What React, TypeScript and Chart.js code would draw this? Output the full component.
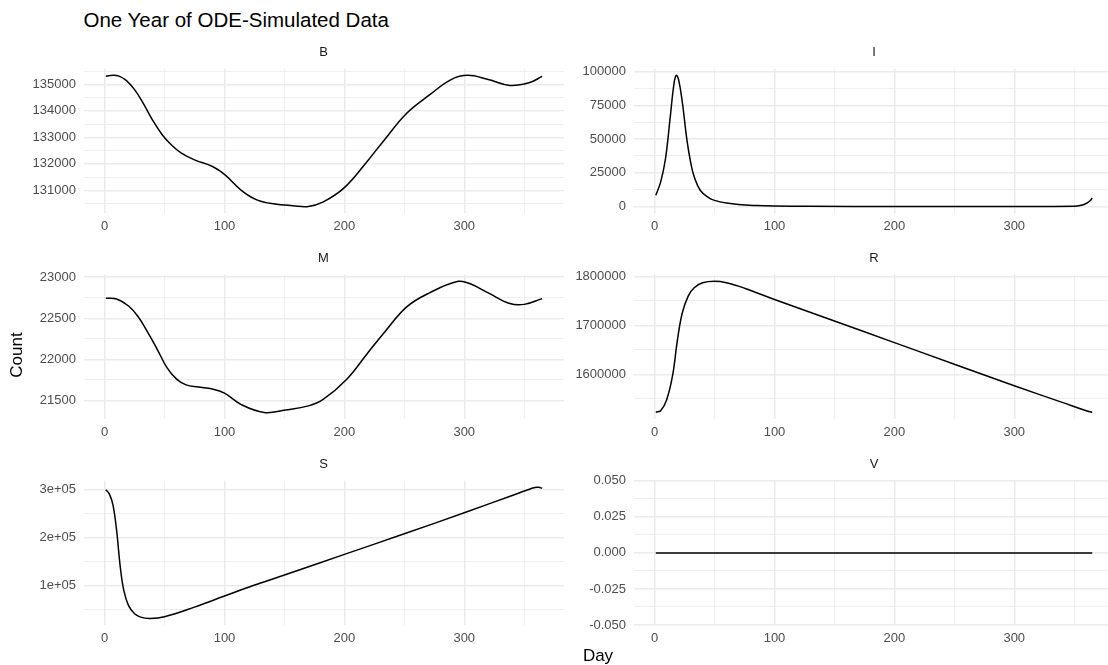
import React, { useEffect, useRef } from 'react';
import { Chart, registerables } from 'chart.js';

Chart.register(...registerables);

// ---------------- data ----------------
const TITLE = 'One Year of ODE-Simulated Data';
const X_LABEL = 'Day';
const Y_LABEL = 'Count';

const X_TICKS = [0, 100, 200, 300];
const X_TICK_LABELS = ['0', '100', '200', '300'];

const B_DAYS = [1, 7, 12, 18, 25, 32, 40, 48, 56, 64, 75, 90, 100, 114, 127, 142, 157, 170, 182, 200, 219, 234, 252, 271, 289, 303, 320, 338, 354, 365];
const B_VALUES = [135310, 135340, 135310, 135150, 134800, 134300, 133650, 133100, 132700, 132400, 132150, 131900, 131600, 131000, 130640, 130480, 130420, 130390, 130550, 131100, 132090, 132940, 133910, 134600, 135180, 135340, 135180, 134960, 135060, 135300];
const B_TICKS = [131000, 132000, 133000, 134000, 135000];
const B_TICK_LABELS = ['131000', '132000', '133000', '134000', '135000'];

const I_DAYS = [1, 5, 9, 13, 16, 18, 20, 23, 27, 30, 33, 38, 45, 50, 60, 70, 85, 100, 130, 200, 300, 350, 355, 360, 363, 365];
const I_VALUES = [8300, 18000, 35000, 66000, 90000, 97200, 94000, 78000, 49000, 33000, 22000, 12000, 6500, 4500, 2500, 1400, 700, 350, 120, 30, 2, 200, 700, 2200, 4000, 6200];
const I_TICKS = [0, 25000, 50000, 75000, 100000];
const I_TICK_LABELS = ['0', '25000', '50000', '75000', '100000'];

const M_DAYS = [1, 10, 20, 28, 36, 44, 52, 60, 68, 78, 90, 100, 114, 133, 151, 170, 182, 202, 219, 234, 252, 271, 295, 305, 320, 338, 350, 365];
const M_VALUES = [22745, 22735, 22650, 22520, 22330, 22120, 21900, 21760, 21690, 21665, 21640, 21590, 21450, 21355, 21385, 21435, 21510, 21760, 22070, 22340, 22640, 22810, 22950, 22920, 22810, 22680, 22670, 22740];
const M_TICKS = [21500, 22000, 22500, 23000];
const M_TICK_LABELS = ['21500', '22000', '22500', '23000'];

const R_DAYS = [1, 5, 10, 15, 19, 23, 28, 33, 40, 50, 60, 75, 100, 150, 200, 250, 300, 340, 360, 365];
const R_VALUES = [1523000, 1526000, 1548000, 1598000, 1670000, 1725000, 1760000, 1777000, 1787000, 1790000, 1787000, 1776000, 1753000, 1709000, 1665000, 1621000, 1577000, 1543000, 1526000, 1522500];
const R_TICKS = [1600000, 1700000, 1800000];
const R_TICK_LABELS = ['1600000', '1700000', '1800000'];

const S_DAYS = [1, 4, 7, 10, 13, 16, 20, 25, 30, 38, 50, 75, 100, 124, 150, 200, 250, 300, 340, 352, 359, 362, 365];
const S_VALUES = [300000, 291000, 268000, 215000, 140000, 90000, 58000, 41000, 34000, 31300, 35000, 55000, 78000, 100000, 122000, 165000, 208000, 252000, 288000, 299000, 304500, 305000, 303000];
const S_TICKS = [100000, 200000, 300000];
const S_TICK_LABELS = ['1e+05', '2e+05', '3e+05'];

const V_DAYS = [1, 100, 200, 300, 365];
const V_VALUES = [0, 0, 0, 0, 0];
const V_TICKS = [-0.05, -0.025, 0, 0.025, 0.05];
const V_TICK_LABELS = ['-0.050', '-0.025', '0.000', '0.025', '0.050'];

// ---------------- layout ----------------
const FONT = '"Liberation Sans", Arial, Helvetica, sans-serif';
const PW = 480;
const PH = 150;
const YW = 80;
const XH = 26;
const PADT = 10;
const COL_LEFT = [83.5, 634];
const ROW_TOP = [63, 269, 475];

type PanelDef = {
  label: string;
  days: number[];
  values: number[];
  ticks: number[];
  tickLabels: string[];
  col: number;
  row: number;
};

const PANELS: PanelDef[] = [
  { label: 'B', days: B_DAYS, values: B_VALUES, ticks: B_TICKS, tickLabels: B_TICK_LABELS, col: 0, row: 0 },
  { label: 'I', days: I_DAYS, values: I_VALUES, ticks: I_TICKS, tickLabels: I_TICK_LABELS, col: 1, row: 0 },
  { label: 'M', days: M_DAYS, values: M_VALUES, ticks: M_TICKS, tickLabels: M_TICK_LABELS, col: 0, row: 1 },
  { label: 'R', days: R_DAYS, values: R_VALUES, ticks: R_TICKS, tickLabels: R_TICK_LABELS, col: 1, row: 1 },
  { label: 'S', days: S_DAYS, values: S_VALUES, ticks: S_TICKS, tickLabels: S_TICK_LABELS, col: 0, row: 2 },
  { label: 'V', days: V_DAYS, values: V_VALUES, ticks: V_TICKS, tickLabels: V_TICK_LABELS, col: 1, row: 2 },
];

function expandRange(vals: number[]): [number, number] {
  const lo = Math.min(...vals);
  const hi = Math.max(...vals);
  const r = hi - lo;
  if (r === 0) return [lo - 0.05, hi + 0.05];
  return [lo - 0.05 * r, hi + 0.05 * r];
}

function withMinors(majors: number[], lo: number, hi: number) {
  const step = majors.length > 1 ? majors[1] - majors[0] : 1;
  const out: { value: number; minor: boolean; label: string }[] = [];
  const cand: number[] = [];
  cand.push(majors[0] - step / 2);
  majors.forEach((m) => {
    cand.push(m);
    cand.push(m + step / 2);
  });
  cand.sort((a, b) => a - b);
  cand.forEach((v) => {
    if (v < lo - 1e-9 || v > hi + 1e-9) return;
    const idx = majors.findIndex((m) => Math.abs(m - v) < 1e-9);
    out.push({ value: v, minor: idx < 0, label: '' });
  });
  return out;
}

const Panel: React.FC<{ def: PanelDef }> = ({ def }) => {
  const ref = useRef<HTMLCanvasElement | null>(null);
  const left = COL_LEFT[def.col] - YW;
  const top = ROW_TOP[def.row] - PADT;
  const width = YW + PW;
  const height = PADT + PH + XH;

  useEffect(() => {
    if (!ref.current) return;
    const xMin = Math.min(...def.days);
    const xMax = Math.max(...def.days);
    const xr = xMax - xMin;
    const xLo = xMin - 0.05 * xr;
    const xHi = xMax + 0.05 * xr;
    const [yLo, yHi] = expandRange(def.values);

    const xTicks = withMinors(X_TICKS, xLo, xHi).map((t) => {
      const i = X_TICKS.findIndex((m) => Math.abs(m - t.value) < 1e-9);
      return { ...t, label: i >= 0 ? X_TICK_LABELS[i] : '' };
    });
    const yTicks = withMinors(def.ticks, yLo, yHi).map((t) => {
      const i = def.ticks.findIndex((m) => Math.abs(m - t.value) < 1e-9);
      return { ...t, label: i >= 0 ? def.tickLabels[i] : '' };
    });

    const gridWidth = (ctx: any) => (ctx.tick && ctx.tick.minor ? 0.8 : 1.5);

    const chart = new Chart(ref.current, {
      type: 'line',
      data: {
        datasets: [
          {
            data: def.days.map((d, i) => ({ x: d, y: def.values[i] })),
            borderColor: '#000000',
            borderWidth: 1.5,
            pointRadius: 0,
            fill: false,
            tension: 0.4,
            cubicInterpolationMode: 'default',
          } as any,
        ],
      },
      options: {
        responsive: false,
        animation: false,
        devicePixelRatio: 1,
        layout: { padding: { top: PADT, left: 0, right: 0, bottom: 0 } },
        plugins: {
          legend: { display: false },
          tooltip: { enabled: false },
          title: { display: false },
        },
        scales: {
          x: {
            type: 'linear',
            min: xLo,
            max: xHi,
            afterBuildTicks: (s: any) => {
              s.ticks = xTicks.map((t) => ({ value: t.value, minor: t.minor, label: t.label }));
            },
            afterFit: (s: any) => {
              s.height = XH;
            },
            ticks: {
              autoSkip: false,
              maxRotation: 0,
              padding: 6,
              color: '#4D4D4D',
              font: { family: FONT, size: 13 },
              callback: (_v: any, i: number) => (xTicks[i] ? xTicks[i].label : ''),
            },
            grid: { color: '#EBEBEB', lineWidth: gridWidth, drawTicks: false },
            border: { display: false },
          },
          y: {
            type: 'linear',
            min: yLo,
            max: yHi,
            afterBuildTicks: (s: any) => {
              s.ticks = yTicks.map((t) => ({ value: t.value, minor: t.minor, label: t.label }));
            },
            afterFit: (s: any) => {
              s.width = YW;
            },
            ticks: {
              autoSkip: false,
              padding: 8,
              color: '#4D4D4D',
              font: { family: FONT, size: 13 },
              callback: (_v: any, i: number) => (yTicks[i] ? yTicks[i].label : ''),
            },
            grid: { color: '#EBEBEB', lineWidth: gridWidth, drawTicks: false },
            border: { display: false },
          },
        },
      } as any,
    });
    return () => chart.destroy();
  }, []);

  const stripCenterY = ROW_TOP[def.row] - 11.5;
  return (
    <>
      <canvas
        ref={ref}
        width={width}
        height={height}
        style={{ position: 'absolute', left, top, width, height }}
      />
      <div
        style={{
          position: 'absolute',
          left: COL_LEFT[def.col],
          width: PW,
          top: stripCenterY - 8,
          height: 16,
          lineHeight: '16px',
          textAlign: 'center',
          fontFamily: FONT,
          fontSize: 13,
          color: '#1A1A1A',
          whiteSpace: 'nowrap',
        }}
      >
        {def.label}
      </div>
    </>
  );
};

export default function App() {
  return (
    <div
      style={{
        position: 'fixed',
        left: 0,
        top: 0,
        width: 1108,
        height: 665,
        overflow: 'hidden',
        background: '#FFFFFF',
      }}
    >
      <div
        style={{
          position: 'absolute',
          left: 83.5,
          top: 20 - 12,
          height: 24,
          lineHeight: '24px',
          fontFamily: FONT,
          fontSize: 20.5,
          color: '#000000',
          whiteSpace: 'nowrap',
        }}
      >
        {TITLE}
      </div>
      {PANELS.map((p) => (
        <Panel key={p.label} def={p} />
      ))}
      <div
        style={{
          position: 'absolute',
          left: 17 - 40,
          top: 355 - 10,
          width: 80,
          height: 20,
          lineHeight: '20px',
          textAlign: 'center',
          transform: 'rotate(-90deg)',
          fontFamily: FONT,
          fontSize: 17,
          color: '#000000',
          whiteSpace: 'nowrap',
        }}
      >
        {Y_LABEL}
      </div>
      <div
        style={{
          position: 'absolute',
          left: 598 - 40,
          top: 656 - 10,
          width: 80,
          height: 20,
          lineHeight: '20px',
          textAlign: 'center',
          fontFamily: FONT,
          fontSize: 17,
          color: '#000000',
          whiteSpace: 'nowrap',
        }}
      >
        {X_LABEL}
      </div>
    </div>
  );
}
